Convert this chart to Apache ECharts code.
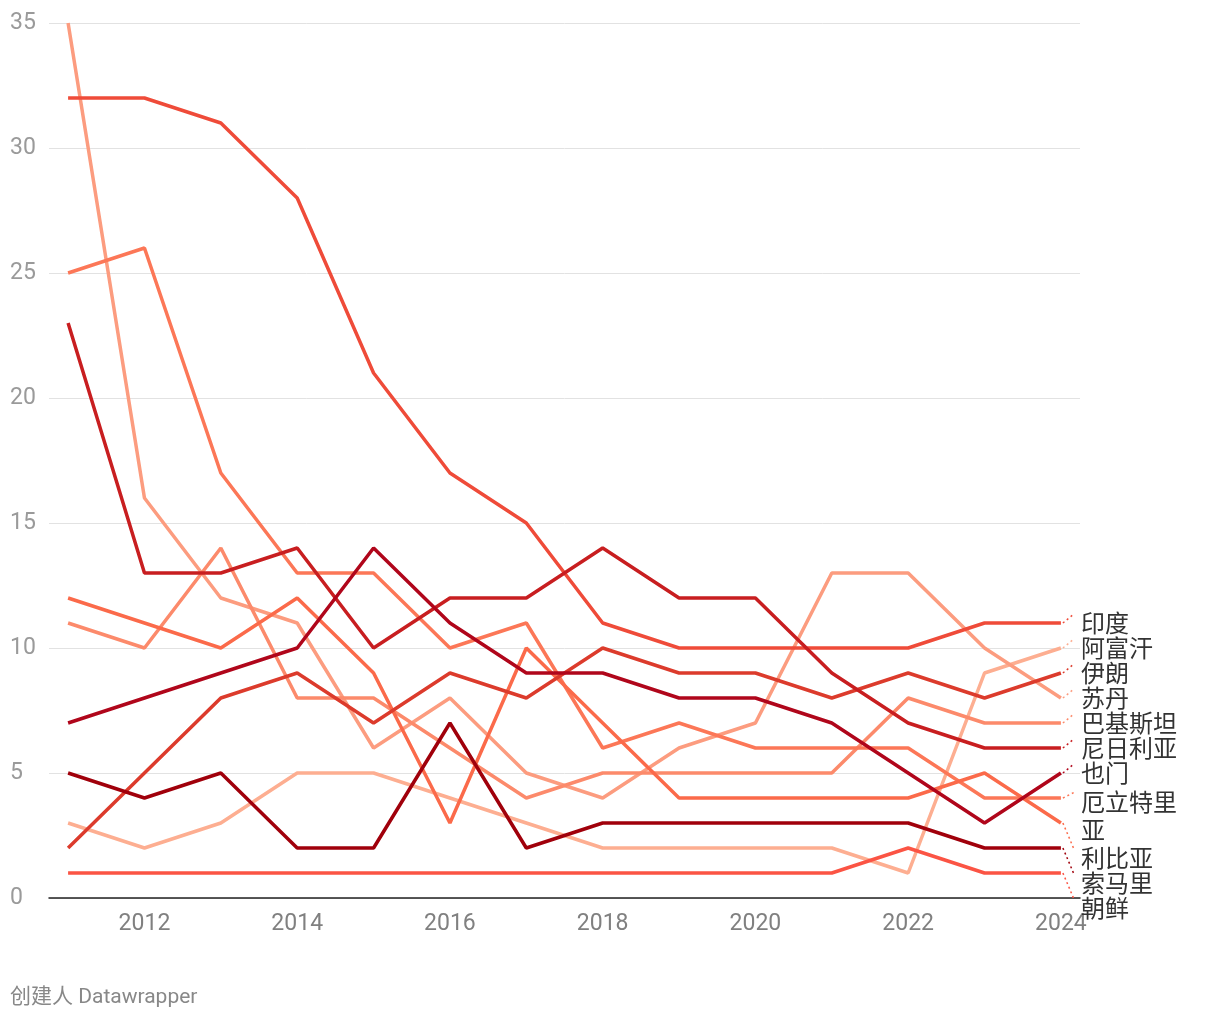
<!DOCTYPE html>
<html>
<head>
<meta charset="utf-8">
<script src="https://cdn.jsdelivr.net/npm/echarts@6/dist/echarts.min.js"></script>
<style>
  html, body { margin: 0; padding: 0; background: #ffffff; }
  #chart { width: 1220px; height: 1020px; }
</style>
</head>
<body>
<div id="chart"></div>
<script>
const years = [2011, 2012, 2013, 2014, 2015, 2016, 2017, 2018, 2019, 2020, 2021, 2022, 2023, 2024];
const xTickLabels = [2012, 2014, 2016, 2018, 2020, 2022, 2024];
const yTicks = [0, 5, 10, 15, 20, 25, 30, 35];

const india      = [32, 32, 31, 28, 21, 17, 15, 11, 10, 10, 10, 10, 11, 11];
const afghanistan= [3, 2, 3, 5, 5, 4, 3, 2, 2, 2, 2, 1, 9, 10];
const iran       = [2, 5, 8, 9, 7, 9, 8, 10, 9, 9, 8, 9, 8, 9];
const sudan      = [35, 16, 12, 11, 6, 8, 5, 4, 6, 7, 13, 13, 10, 8];
const pakistan   = [11, 10, 14, 8, 8, 6, 4, 5, 5, 5, 5, 8, 7, 7];
const nigeria    = [23, 13, 13, 14, 10, 12, 12, 14, 12, 12, 9, 7, 6, 6];
const yemen      = [7, 8, 9, 10, 14, 11, 9, 9, 8, 8, 7, 5, 3, 5];
const eritrea    = [25, 26, 17, 13, 13, 10, 11, 6, 7, 6, 6, 6, 4, 4];
const libya      = [12, 11, 10, 12, 9, 3, 10, 7, 4, 4, 4, 4, 5, 3];
const somalia    = [5, 4, 5, 2, 2, 7, 2, 3, 3, 3, 3, 3, 2, 2];
const northKorea = [1, 1, 1, 1, 1, 1, 1, 1, 1, 1, 1, 2, 1, 1];

const seriesDefs = [
  { name: '阿富汗', values: afghanistan, color: '#fdae91' },
  { name: '苏丹', values: sudan, color: '#fc9c7f' },
  { name: '巴基斯坦', values: pakistan, color: '#fc8a6b' },
  { name: '厄立特里亚', values: eritrea, color: '#fc7757' },
  { name: '利比亚', values: libya, color: '#fb6a4a' },
  { name: '朝鲜', values: northKorea, color: '#fb5444' },
  { name: '印度', values: india, color: '#ef4b39' },
  { name: '伊朗', values: iran, color: '#dc3b2c' },
  { name: '尼日利亚', values: nigeria, color: '#c81e20' },
  { name: '也门', values: yemen, color: '#b0061b' },
  { name: '索马里', values: somalia, color: '#a0000b' }
];

const chart = echarts.init(document.getElementById('chart'), null, { renderer: 'canvas' });

const option = {
  backgroundColor: '#ffffff',
  animation: false,
  grid: { left: 49, right: 140, top: 23, bottom: 122, containLabel: false },
  xAxis: {
    type: 'value',
    min: 2010.75,
    max: 2024.25,
    interval: 0.25,
    axisLine: { show: true, onZero: false, lineStyle: { color: '#222222', width: 1.5 } },
    axisTick: { show: false },
    splitLine: { show: false },
    axisLabel: {
      show: true,
      margin: 15,
      color: '#808080',
      fontSize: 23,
      fontFamily: 'Roboto, sans-serif',
      showMinLabel: true,
      showMaxLabel: true,
      formatter: function (v) {
        const r = Math.round(v);
        if (Math.abs(v - r) < 1e-6 && xTickLabels.indexOf(r) >= 0) return String(r);
        return '';
      }
    }
  },
  yAxis: {
    type: 'value',
    min: 0,
    max: 35,
    interval: 5,
    axisLine: { show: false },
    axisTick: { show: false },
    splitLine: { show: true, lineStyle: { color: '#e2e2e2', width: 1 } },
    axisLabel: {
      margin: 39,
      align: 'left',
      color: '#9a9a9a',
      fontSize: 23,
      fontFamily: 'Roboto, sans-serif',
      formatter: function (v) { return yTicks.indexOf(v) >= 0 ? String(v) : ''; }
    }
  },
  series: seriesDefs.map(function (s) {
    return {
      name: s.name,
      type: 'line',
      data: years.map(function (y, i) { return [y, s.values[i]]; }),
      symbol: 'none',
      showSymbol: false,
      lineStyle: { color: s.color, width: 3.5 },
      itemStyle: { color: s.color },
      emphasis: { disabled: true },
      z: 2
    };
  })
};

chart.setOption(option);

// ---- end labels with simple collision avoidance ----
const measureCtx = document.createElement('canvas').getContext('2d');
const labelFontSize = 24;
measureCtx.font = labelFontSize + 'px "Noto Sans CJK SC"';
const maxLabelWidth = 104;
const lineH = 28;

function wrap(text) {
  const lines = [];
  let cur = '';
  for (const ch of text) {
    const test = cur + ch;
    if (measureCtx.measureText(test).width > maxLabelWidth && cur.length) {
      lines.push(cur);
      cur = ch;
    } else {
      cur = test;
    }
  }
  if (cur) lines.push(cur);
  return lines;
}

const lastIdx = years.length - 1;
const items = seriesDefs.map(function (s) {
  const p = chart.convertToPixel({ gridIndex: 0 }, [years[lastIdx], s.values[lastIdx]]);
  const lines = wrap(s.name);
  return {
    name: s.name, color: s.color, px: p[0], py: p[1], lines: lines,
    h: lines.length === 1 ? 25 : lines.length * lineH + 4
  };
});
items.sort(function (a, b) { return a.py - b.py; });
let prev = null;
items.forEach(function (it) {
  let c = it.py + (it.lines.length - 1) * lineH / 2;
  if (prev) c = Math.max(c, prev.c + (prev.h + it.h) / 2);
  it.c = c;
  prev = it;
});

const graphics = [];
items.forEach(function (it) {
  const firstLineCenter = it.c - (it.lines.length - 1) * lineH / 2;
  graphics.push({
    type: 'line',
    silent: true,
    shape: { x1: it.px + 2, y1: it.py, x2: it.px + 13, y2: firstLineCenter - 9 },
    style: { stroke: it.color, lineWidth: 1.5, lineDash: [2, 3] },
    z: 10
  });
  graphics.push({
    type: 'text',
    silent: true,
    x: it.px + 20,
    y: it.c,
    style: {
      text: it.lines.join('\n'),
      fill: '#333333',
      fontSize: labelFontSize,
      fontFamily: 'Noto Sans CJK SC',
      lineHeight: lineH,
      verticalAlign: 'middle',
      align: 'left'
    },
    z: 10
  });
});

graphics.push({
  type: 'text',
  silent: true,
  left: 10,
  top: 987,
  style: {
    text: '创建人 Datawrapper',
    fill: '#888888',
    fontSize: 21,
    fontFamily: 'Roboto, "Noto Sans CJK SC", sans-serif'
  }
});

chart.setOption({ graphic: graphics });
</script>
</body>
</html>
